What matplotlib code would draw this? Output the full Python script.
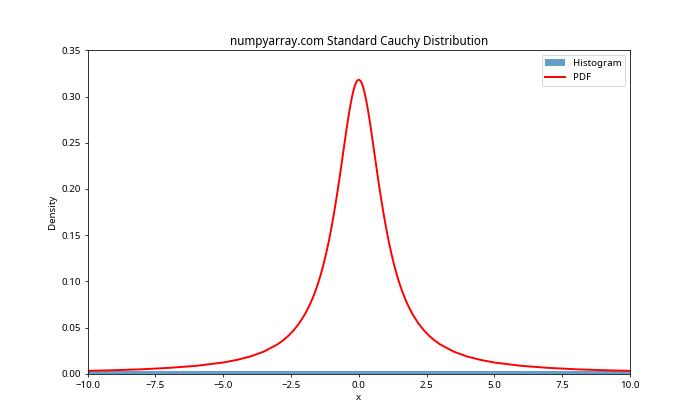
import numpy as np
import matplotlib
matplotlib.use("Agg")
import matplotlib.pyplot as plt

plt.rcParams['font.family'] = ['Noto Sans', 'DejaVu Sans']

# PDF curve (right half, mirrored for the left)
pdf_x_half = [0.0, 0.05, 0.1, 0.15, 0.2, 0.25, 0.3, 0.35, 0.4, 0.45, 0.5, 0.6, 0.7,
              0.8, 0.9, 1.0, 1.1, 1.2, 1.3, 1.4, 1.5, 1.6, 1.7, 1.8, 1.9, 2.0, 2.2,
              2.4, 2.6, 2.8, 3.0, 3.5, 4.0, 4.5, 5.0, 6.0, 7.0, 8.0, 9.0, 10.0]
pdf_y_half = [0.3183, 0.3175, 0.3152, 0.3113, 0.3061, 0.2996, 0.2920, 0.2836, 0.2744,
              0.2647, 0.2546, 0.2341, 0.2136, 0.1941, 0.1759, 0.1592, 0.1440, 0.1305,
              0.1183, 0.1075, 0.0979, 0.0894, 0.0818, 0.0751, 0.0691, 0.0637, 0.0545,
              0.0471, 0.0410, 0.0360, 0.0318, 0.0240, 0.0187, 0.0150, 0.0122, 0.0086,
              0.0064, 0.0049, 0.0039, 0.0032]

# histogram bins (very wide, very low because of the heavy tails)
hist_edges = [-15.0, -5.0, 5.0, 15.0]
hist_heights = [0.003, 0.003, 0.003]

pdf_x = np.concatenate([-np.array(pdf_x_half[:0:-1]), pdf_x_half])
pdf_y = np.concatenate([np.array(pdf_y_half[:0:-1]), pdf_y_half])

fig, ax = plt.subplots(figsize=(10, 6), dpi=70)
ax.hist(hist_edges[:-1], bins=hist_edges, weights=hist_heights,
        alpha=0.7, label='Histogram')
ax.plot(pdf_x, pdf_y, 'r-', lw=2, label='PDF')
ax.set_xlim(-10, 10)
ax.set_ylim(0, 0.35)
ax.set_title('numpyarray.com Standard Cauchy Distribution')
ax.set_xlabel('x')
ax.set_ylabel('Density')
ax.legend()
plt.savefig('out.png')
plt.close()
